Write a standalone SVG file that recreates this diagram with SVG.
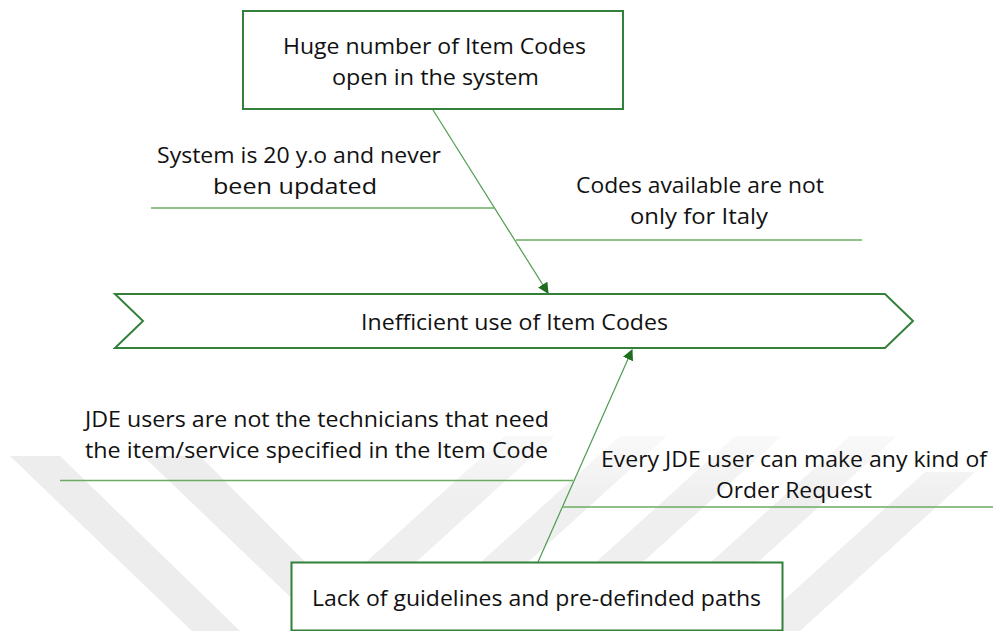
<svg xmlns="http://www.w3.org/2000/svg" width="993" height="631" viewBox="0 0 993 631">
  <defs>
    <style>
      .box { fill: #ffffff; stroke: #33803a; stroke-width: 2; }
      .bone { fill: none; stroke: #4f9c4f; stroke-width: 1.2; }
      .rib { fill: none; stroke: #6aad62; stroke-width: 1.3; }
      .lbl { font-family: "Open Sans", "Noto Sans", "Liberation Sans", sans-serif; font-size: 22px; fill: #111111; }
      .band { fill: #ededed; }
      .fade { fill: url(#bandFade); }
    </style>
    <linearGradient id="bandFade" gradientUnits="userSpaceOnUse" x1="0" y1="400" x2="0" y2="500">
      <stop offset="0" stop-color="#ffffff"/>
      <stop offset="1" stop-color="#efefef"/>
    </linearGradient>
    <marker id="head" viewBox="0 0 10 10" refX="9" refY="5" markerWidth="11" markerHeight="11" markerUnits="userSpaceOnUse" orient="auto">
      <path d="M0,0 L10,5 L0,10 Z" fill="#1f6e1f"/>
    </marker>
  </defs>

  <rect width="993" height="631" fill="#ffffff"/>

  <!-- light background stripes -->
  <g id="backdrop">
    <polygon class="band" points="10,456 60,456 240,631 192,631"/>
    <polygon class="band" points="143,456 200,456 335,592 307,613"/>
    <polygon class="fade" points="290,631 340,631 555,436 505,436"/>
    <polygon class="fade" points="405,631 452,631 667,436 620,436"/>
    <polygon class="fade" points="520,631 567,631 782,436 735,436"/>
    <polygon class="fade" points="635,631 682,631 897,436 850,436"/>
    <polygon class="fade" points="750,631 800,631 975,472 925,472"/>
  </g>

  <!-- spine arrows and cause ribs -->
  <g id="connectors">
    <line class="bone" x1="433" y1="110" x2="548" y2="293" marker-end="url(#head)"/>
    <line class="bone" x1="538" y1="562" x2="632" y2="350" marker-end="url(#head)"/>
    <line class="rib" x1="151" y1="208" x2="495" y2="208"/>
    <line class="rib" x1="516" y1="240" x2="862" y2="240"/>
    <line class="rib" x1="60" y1="480.5" x2="573" y2="480.5"/>
    <line class="rib" x1="563" y1="507" x2="993" y2="507"/>
  </g>

  <g id="problem-top">
    <rect class="box" x="243" y="11" width="380" height="98"/>
    <text class="lbl" x="283" y="54" textLength="303" lengthAdjust="spacingAndGlyphs">Huge number of Item Codes</text>
    <text class="lbl" x="332" y="85" textLength="207" lengthAdjust="spacingAndGlyphs">open in the system</text>
  </g>

  <g id="effect">
    <polygon class="box" points="115,294 885,294 913,321 885,348 115,348 143,321"/>
    <text class="lbl" x="361" y="330" textLength="307" lengthAdjust="spacingAndGlyphs">Inefficient use of Item Codes</text>
  </g>

  <g id="problem-bottom">
    <rect class="box" x="291.5" y="562.5" width="491" height="68"/>
    <text class="lbl" x="312" y="606" textLength="449" lengthAdjust="spacingAndGlyphs">Lack of guidelines and pre-definded paths</text>
  </g>

  <g id="cause-age">
    <text class="lbl" x="157" y="163" textLength="284" lengthAdjust="spacingAndGlyphs">System is 20 y.o and never</text>
    <text class="lbl" x="213" y="194" textLength="164" lengthAdjust="spacingAndGlyphs">been updated</text>
  </g>

  <g id="cause-country">
    <text class="lbl" x="576" y="193" textLength="248" lengthAdjust="spacingAndGlyphs">Codes available are not</text>
    <text class="lbl" x="630" y="224" textLength="138" lengthAdjust="spacingAndGlyphs">only for Italy</text>
  </g>

  <g id="cause-users">
    <text class="lbl" x="85" y="427" textLength="464" lengthAdjust="spacingAndGlyphs">JDE users are not the technicians that need</text>
    <text class="lbl" x="85" y="458" textLength="463" lengthAdjust="spacingAndGlyphs">the item/service specified in the Item Code</text>
  </g>

  <g id="cause-requests">
    <text class="lbl" x="601" y="467" textLength="386" lengthAdjust="spacingAndGlyphs">Every JDE user can make any kind of</text>
    <text class="lbl" x="716" y="498" textLength="156" lengthAdjust="spacingAndGlyphs">Order Request</text>
  </g>
</svg>
